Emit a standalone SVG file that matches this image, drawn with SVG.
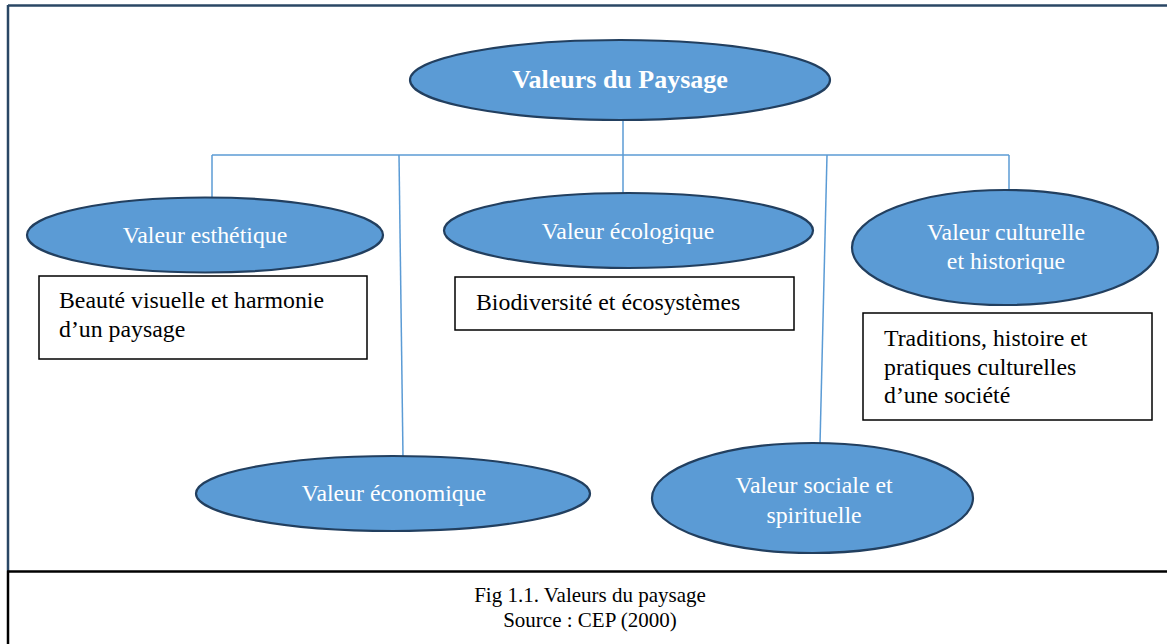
<svg xmlns="http://www.w3.org/2000/svg" width="1167" height="644" viewBox="0 0 1167 644" font-family="'Liberation Serif', serif">
<style>
.ell{fill:#5b9bd5;stroke:#223f5f;stroke-width:2.2}
text{font-family:'Liberation Serif',serif}
.et{font-size:20px;fill:#ffffff;text-anchor:middle}
.box{fill:#ffffff;stroke:#000000;stroke-width:1.5}
.bt{font-size:20px;fill:#000000}
.conn{stroke:#5b9bd5;stroke-width:1.5;fill:none}
.cap{font-size:21px;fill:#000000;text-anchor:middle}
</style>
<rect x="0" y="0" width="1167" height="644" fill="#ffffff"/>
<g id="frame">
<line x1="8" y1="5.5" x2="1167" y2="5.5" stroke="#2a4765" stroke-width="2.5"/>
<line x1="8" y1="5" x2="8" y2="571" stroke="#2a4765" stroke-width="2.5"/>
<line x1="8" y1="571" x2="8" y2="644" stroke="#000000" stroke-width="2.5"/>
<line x1="7" y1="571.5" x2="1167" y2="571.5" stroke="#000000" stroke-width="2.5"/>
</g>
<g id="connectors">
<line class="conn" x1="623" y1="120" x2="623" y2="195"/>
<line class="conn" x1="212" y1="155" x2="1009" y2="155"/>
<line class="conn" x1="212" y1="155" x2="212" y2="198"/>
<line class="conn" x1="1009" y1="155" x2="1009" y2="191"/>
<line class="conn" x1="399" y1="155" x2="403" y2="457"/>
<line class="conn" x1="827" y1="155" x2="820" y2="444"/>
</g>
<g id="root">
<ellipse class="ell" cx="620" cy="80" rx="210" ry="40"/>
<text x="620" y="88" class="et" style="font-weight:bold;font-size:26px">Valeurs du Paysage</text>
</g>
<g id="esthetique">
<ellipse class="ell" cx="205" cy="235" rx="178" ry="37.5"/>
<text transform="translate(205,243) scale(1.19)" class="et">Valeur esthétique</text>
</g>
<g id="box-esthetique">
<rect class="box" x="39" y="276" width="328" height="83"/>
<text class="bt" transform="translate(59,308) scale(1.19)">Beauté visuelle et harmonie</text>
<text class="bt" transform="translate(59,337) scale(1.19)">d’un paysage</text>
</g>
<g id="ecologique">
<ellipse class="ell" cx="628.5" cy="230.5" rx="184.5" ry="37.5"/>
<text transform="translate(628,239) scale(1.19)" class="et">Valeur écologique</text>
</g>
<g id="box-ecologique">
<rect class="box" x="455" y="277" width="339" height="53"/>
<text class="bt" transform="translate(476,310) scale(1.19)">Biodiversité et écosystèmes</text>
</g>
<g id="culturelle">
<ellipse class="ell" cx="1005" cy="247.5" rx="153" ry="57.5"/>
<text transform="translate(1006,240) scale(1.19)" class="et">Valeur culturelle</text>
<text transform="translate(1006,269) scale(1.19)" class="et">et historique</text>
</g>
<g id="box-culturelle">
<rect class="box" x="863" y="313" width="289" height="107"/>
<text class="bt" transform="translate(884,346) scale(1.19)">Traditions, histoire et</text>
<text class="bt" transform="translate(884,375) scale(1.19)">pratiques culturelles</text>
<text class="bt" transform="translate(884,403) scale(1.19)">d’une société</text>
</g>
<g id="economique">
<ellipse class="ell" cx="393" cy="493.5" rx="197" ry="37.5"/>
<text transform="translate(394,501) scale(1.19)" class="et">Valeur économique</text>
</g>
<g id="sociale">
<ellipse class="ell" cx="812.5" cy="498" rx="160.5" ry="55"/>
<text transform="translate(814,493) scale(1.19)" class="et">Valeur sociale et</text>
<text transform="translate(814,523) scale(1.19)" class="et">spirituelle</text>
</g>
<g id="caption">
<text class="cap" x="590" y="602">Fig 1.1. Valeurs du paysage</text>
<text class="cap" x="590" y="627">Source : CEP (2000)</text>
</g>
</svg>
